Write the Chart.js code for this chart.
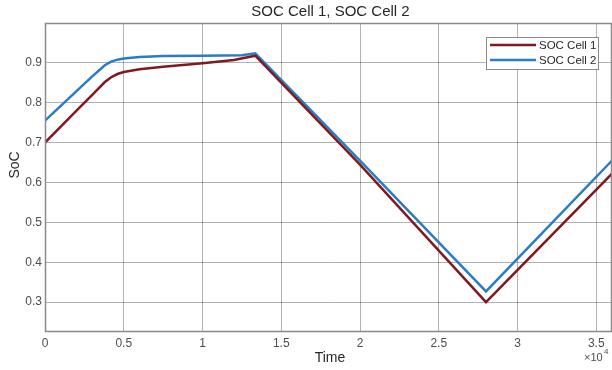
<!DOCTYPE html>
<html>
<head>
<meta charset="utf-8">
<script src="https://cdn.jsdelivr.net/npm/chart.js@4/dist/chart.umd.min.js"></script>
<style>
  html, body { margin: 0; padding: 0; background: #fff; }
  #wrap { width: 612px; height: 370px; position: relative; }
</style>
</head>
<body>
<div id="wrap"><canvas id="c" width="612" height="370"></canvas></div>
<script>
// ---- data ----
const chartTitle = "SOC Cell 1, SOC Cell 2";
const seriesNames = ["SOC Cell 1", "SOC Cell 2"];
const timeCell1 = [0, 1000, 2000, 3000, 3800, 4200, 4600, 5000, 6000, 7500, 10000, 12000, 13350, 20000, 28000, 36000];
const socCell1  = [0.700, 0.740, 0.780, 0.820, 0.852, 0.864, 0.872, 0.877, 0.884, 0.890, 0.899, 0.907, 0.918, 0.645, 0.300, 0.622];
const timeCell2 = [0, 1000, 2000, 3000, 3800, 4200, 4600, 5000, 6000, 7500, 10000, 12500, 13350, 20000, 28000, 36000];
const socCell2  = [0.755, 0.792, 0.829, 0.866, 0.894, 0.903, 0.908, 0.911, 0.915, 0.917, 0.918, 0.919, 0.924, 0.655, 0.327, 0.655];
const xTickValues = [0, 5000, 10000, 15000, 20000, 25000, 30000, 35000];
const xTickLabels = ["0", "0.5", "1", "1.5", "2", "2.5", "3", "3.5"];
const yTickValues = [0.3, 0.4, 0.5, 0.6, 0.7, 0.8, 0.9];
const yTickLabels = ["0.3", "0.4", "0.5", "0.6", "0.7", "0.8", "0.9"];
const xAxisTitle = "Time";
const yAxisTitle = "SoC";
const xExponent = "4";

const colors = ["#7f1a22", "#2a7cc4"];
const FONT = "'Liberation Sans', Arial, Helvetica, sans-serif";

function pts(xs, ys) { return xs.map((x, i) => ({ x: x, y: ys[i] })); }

const overlay = {
  id: "overlay",
  afterDraw(chart) {
    const ctx = chart.ctx;
    const a = chart.chartArea;
    ctx.save();
    // axes box
    ctx.strokeStyle = "#8a8a8a";
    ctx.lineWidth = 1.5;
    ctx.strokeRect(a.left + 0.5, a.top + 0.5, a.right - a.left - 1, a.bottom - a.top - 1);
    // title
    ctx.fillStyle = "#262626";
    ctx.font = "15px " + FONT;
    ctx.textAlign = "center";
    ctx.textBaseline = "middle";
    ctx.fillText(chartTitle, (a.left + a.right) / 2 + 2, 12);
    // y axis title
    ctx.save();
    ctx.translate(15, 165);
    ctx.rotate(-Math.PI / 2);
    ctx.font = "14px " + FONT;
    ctx.fillText(yAxisTitle, 0, 0);
    ctx.restore();
    // x axis title
    ctx.font = "14px " + FONT;
    ctx.fillText(xAxisTitle, 330, 358);
    // exponent
    ctx.fillStyle = "#4d4d4d";
    ctx.font = "11px " + FONT;
    ctx.textAlign = "left";
    ctx.fillText("\u00d710", 584, 358);
    ctx.font = "8px " + FONT;
    ctx.fillText(xExponent, 604, 352);
    // legend
    const lx = 486, ly = 37, lw = 112, lh = 32;
    ctx.fillStyle = "#ffffff";
    ctx.fillRect(lx, ly, lw, lh);
    ctx.strokeStyle = "#8a8a8a";
    ctx.lineWidth = 1;
    ctx.strokeRect(lx + 0.5, ly + 0.5, lw, lh);
    chart.data.datasets.forEach((ds, i) => {
      const yy = ly + 8 + i * 15;
      ctx.strokeStyle = ds.borderColor;
      ctx.lineWidth = 2.5;
      ctx.beginPath();
      ctx.moveTo(490, yy);
      ctx.lineTo(536, yy);
      ctx.stroke();
      ctx.fillStyle = "#262626";
      ctx.font = "11.5px " + FONT;
      ctx.textAlign = "left";
      ctx.textBaseline = "middle";
      ctx.fillText(ds.label, 539, yy + 0.5);
    });
    ctx.restore();
  }
};

new Chart(document.getElementById("c"), {
  type: "line",
  data: {
    datasets: [
      { label: seriesNames[0], data: pts(timeCell1, socCell1), borderColor: colors[0], borderWidth: 2.5, pointRadius: 0, tension: 0, fill: false },
      { label: seriesNames[1], data: pts(timeCell2, socCell2), borderColor: colors[1], borderWidth: 2.5, pointRadius: 0, tension: 0, fill: false }
    ]
  },
  options: {
    responsive: false,
    animation: false,
    devicePixelRatio: 1,
    layout: { padding: { top: 23, right: 0, left: 0, bottom: 0 } },
    plugins: { legend: { display: false }, title: { display: false }, tooltip: { enabled: false } },
    scales: {
      x: {
        type: "linear",
        min: 0, max: 36000,
        afterBuildTicks(s) { s.ticks = xTickValues.map(v => ({ value: v })); },
        afterFit(s) { s.height = 38; },
        grid: { color: "rgba(0,0,0,0.3)", lineWidth: 1, drawTicks: false },
        border: { display: false },
        ticks: {
          padding: 4,
          color: "#4d4d4d",
          font: { family: FONT, size: 12 },
          maxRotation: 0,
          callback(v) { const i = xTickValues.indexOf(v); return i >= 0 ? xTickLabels[i] : ""; }
        },
        title: { display: false }
      },
      y: {
        type: "linear",
        min: 0.225, max: 1.0,
        afterBuildTicks(s) { s.ticks = yTickValues.map(v => ({ value: v })); },
        afterFit(s) { s.width = 45; },
        grid: { color: "rgba(0,0,0,0.3)", lineWidth: 1, drawTicks: false },
        border: { display: false },
        ticks: {
          padding: 3,
          color: "#4d4d4d",
          font: { family: FONT, size: 12 },
          callback(v) { const i = yTickValues.findIndex(t => Math.abs(t - v) < 1e-9); return i >= 0 ? yTickLabels[i] : ""; }
        },
        title: { display: false }
      }
    }
  },
  plugins: [overlay]
});
</script>
</body>
</html>
